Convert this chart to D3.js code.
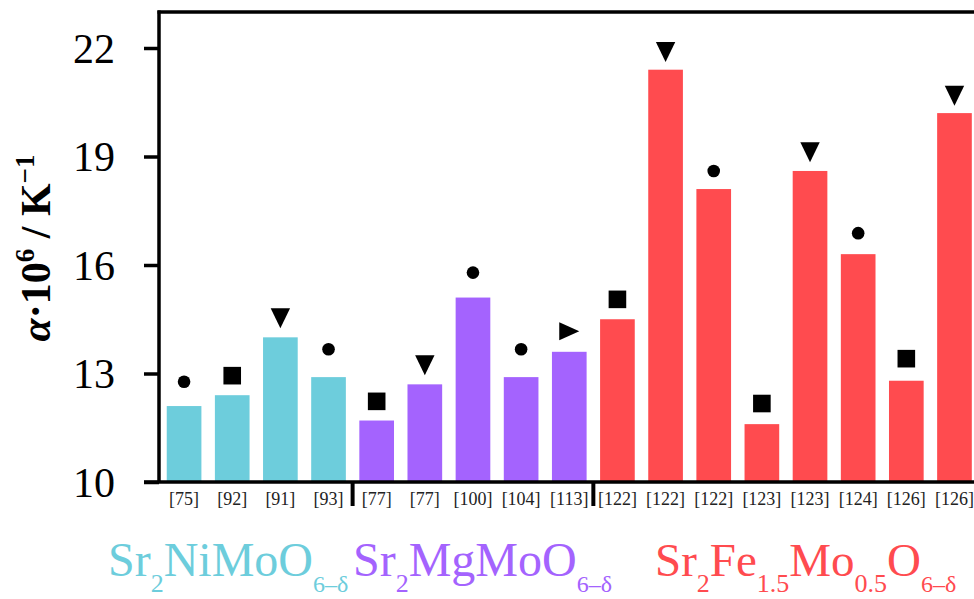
<!DOCTYPE html>
<html><head><meta charset="utf-8">
<script src="https://cdn.jsdelivr.net/npm/d3@7"></script>
<style>
html,body{margin:0;padding:0;background:#fff;}
svg{display:block;}
text{font-family:"Palatino Linotype","Book Antiqua",Palatino,"Liberation Serif","DejaVu Serif",serif;}
</style></head>
<body>
<svg id="c" width="974" height="599"></svg>
<script>
// ---- data ----
const refs = ["[75]","[92]","[91]","[93]","[77]","[77]","[100]","[104]","[113]","[122]","[122]","[122]","[123]","[123]","[124]","[126]","[126]"];
const groupOf = [0,0,0,0,1,1,1,1,1,2,2,2,2,2,2,2,2];
const values = [12.1,12.4,14.0,12.9,11.7,12.7,15.1,12.9,13.6,14.5,21.4,18.1,11.6,18.6,16.3,12.8,20.2];
const markers = ["circle","square","down","circle","square","down","circle","circle","right","square","down","circle","square","down","circle","square","down"];
const markerLevels = [12.77,12.94,14.53,13.67,12.23,13.23,15.79,13.67,14.17,15.05,21.89,18.6,12.17,19.12,16.88,13.41,20.68];
const yTicks = [10,13,16,19,22];
const groupNames = [
  [["Sr",0],["2",1],["NiMoO",0],["6\u2013\u03b4",2]],
  [["Sr",0],["2",1],["MgMoO",0],["6\u2013\u03b4",2]],
  [["Sr",0],["2",1],["Fe",0],["1.5",1],["Mo",0],["0.5",1],["O",0],["6\u2013\u03b4",2]]
];
const groupColors = ["#6dcddc","#a463fe","#ff4b4f"];

// ---- layout ----
const svg = d3.select("#c");
const padL = 159, padT = 12, axisB = 482, padR = 980;
const y = d3.scaleLinear().domain([10,22]).range([482,48]);
const x = d3.scaleBand().domain(d3.range(refs.length)).range([160, 160+17*48.15]).paddingInner(0.28).paddingOuter(0.14);

// bars
svg.append("g").selectAll("rect").data(values).join("rect")
  .attr("x",(d,i)=>x(i)).attr("width",x.bandwidth())
  .attr("y",d=>y(d)).attr("height",d=>y(10)-y(d))
  .attr("fill",(d,i)=>groupColors[groupOf[i]]);

// markers
const mg = svg.append("g").attr("fill","#000");
markers.forEach((m,i)=>{
  const cx = x(i)+x.bandwidth()/2, cy = y(markerLevels[i]);
  if(m==="circle") mg.append("circle").attr("cx",cx).attr("cy",cy).attr("r",6.3);
  else if(m==="square") mg.append("rect").attr("x",cx-8.8).attr("y",cy-8.8).attr("width",17.6).attr("height",17.6);
  else if(m==="down") mg.append("path").attr("d",`M${cx-9.7},${cy-10}L${cx+9.7},${cy-10}L${cx},${cy+10}Z`);
  else if(m==="right") mg.append("path").attr("d",`M${cx-10},${cy-9}L${cx-10},${cy+9}L${cx+10},${cy}Z`);
});

// y axis
const yAxis = d3.axisLeft(y).tickValues(yTicks).tickSize(15).tickPadding(29);
const ya = svg.append("g").attr("transform",`translate(${padL},0)`).call(yAxis);
ya.select(".domain").remove();
ya.selectAll(".tick line").attr("stroke","#000").attr("stroke-width",3.5);
ya.selectAll(".tick text").attr("font-size",42).attr("fill","#000").attr("dy","0.34em")
  .style("font-family",'"Palatino Linotype","Liberation Serif",serif');

// frame lines
svg.append("line").attr("x1",padL).attr("x2",padL).attr("y1",padT-1.5).attr("y2",axisB).attr("stroke","#000").attr("stroke-width",3.5);
svg.append("line").attr("x1",padL-1.5).attr("x2",padR).attr("y1",padT).attr("y2",padT).attr("stroke","#000").attr("stroke-width",3.5);
svg.append("line").attr("x1",144).attr("x2",padR).attr("y1",axisB).attr("y2",axisB).attr("stroke","#000").attr("stroke-width",3.5);

// x axis labels
const xAxis = d3.axisBottom(x).tickFormat(i=>refs[i]).tickSize(0).tickPadding(10);
const xa = svg.append("g").attr("transform",`translate(0,${axisB})`).call(xAxis);
xa.select(".domain").remove();
xa.selectAll(".tick text").attr("font-size",18).attr("fill","#222")
  .style("font-family",'"Palatino Linotype","Liberation Serif",serif');

// group separators
const seps = [];
for(let i=1;i<groupOf.length;i++) if(groupOf[i]!==groupOf[i-1]) seps.push(i);
svg.append("g").selectAll("line").data(seps).join("line")
  .attr("x1",i=>x(i)-x.step()*x.paddingInner()/2).attr("x2",i=>x(i)-x.step()*x.paddingInner()/2)
  .attr("y1",axisB).attr("y2",506).attr("stroke","#000").attr("stroke-width",4);

// y label
const yl = svg.append("text").attr("transform","translate(50,248) rotate(-90)")
  .attr("text-anchor","middle").attr("font-size",42).attr("font-weight","bold").attr("fill","#000")
  .style("font-variant-numeric","oldstyle-nums");
yl.append("tspan").attr("font-style","italic").text("\u03b1");
yl.append("tspan").text("\u00b710");
yl.append("tspan").attr("font-size",27).attr("dy",-16).text("6");
yl.append("tspan").attr("dy",16).text(" / K");
yl.append("tspan").attr("font-size",27).attr("dy",-16).text("\u22121");

// group labels
const gx = [108,353,655];
const gFont = [48,48,47];
groupNames.forEach((parts,gi)=>{
  const t = svg.append("text").attr("x",gx[gi]).attr("y",576).attr("font-size",gFont[gi]).attr("fill",groupColors[gi]);
  let shift = 0;
  parts.forEach(([s,k])=>{
    const ts = t.append("tspan").text(s);
    if(k===0){ ts.attr("dy",-shift); shift=0; }
    else { const target = 16; ts.attr("font-size",k===1?26:24).attr("dy",target-shift); shift=target; }
  });
});
</script>
</body></html>
